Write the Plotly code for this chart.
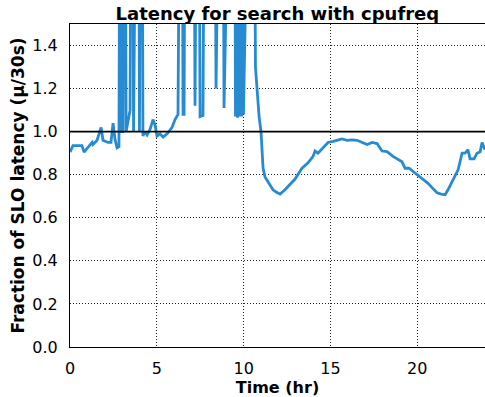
import plotly.graph_objects as go

# Time (hours) and latency fraction of SLO (values >1.5 run off the top of the chart)
time_hr = [
    0.00, 0.17, 0.46, 0.69, 0.81, 1.04, 1.27, 1.32, 1.56, 1.79, 1.90, 2.19, 2.36, 2.48, 2.59, 2.71, 2.82,
    2.91, 2.97, 3.05, 3.14, 3.23, 3.34, 3.46, 3.57, 3.66, 3.77, 3.92, 4.00, 4.12, 4.20,
    4.32, 4.44, 4.61, 4.78, 4.90, 5.01, 5.18, 5.36, 5.59, 5.88, 6.05, 6.22,
    6.34, 6.42, 6.51, 6.57, 6.68, 7.08, 7.20, 7.29, 7.37, 7.49, 7.66, 7.80, 8.29, 8.41, 8.50,
    8.76, 8.87, 8.96, 9.45, 9.53, 9.59, 9.65, 9.71, 9.76, 9.82, 9.88, 9.94, 9.99, 10.08, 10.54,
    10.68, 10.77, 10.89, 11.00, 11.12, 11.23, 11.40, 11.69, 11.87, 12.10, 12.38, 12.67, 12.96,
    13.36, 13.71, 14.00, 14.11, 14.28, 14.52, 14.86, 15.15, 15.44, 15.67, 15.96, 16.24, 16.53,
    16.88, 17.11, 17.40, 17.68, 17.97, 18.26, 18.60, 18.89, 19.12, 19.30, 19.53, 19.76, 19.99,
    20.33, 20.62, 20.85, 21.14, 21.37, 21.60, 21.77, 22.06, 22.35, 22.58, 22.75, 22.92, 23.04,
    23.27, 23.44, 23.62, 23.73, 23.90,
]
latency_frac = [
    0.905, 0.935, 0.935, 0.935, 0.905, 0.93, 0.95, 0.94, 0.96, 1.02, 0.96, 0.95, 0.95, 1.04, 0.965, 0.925, 0.93,
    3.5, 1.0, 1.0, 3.5, 1.0, 1.05, 1.10, 3.5, 1.0, 3.5, 3.5, 1.0, 3.5, 0.98,
    1.0, 0.985, 1.01, 1.056, 1.03, 0.98, 0.99, 0.975, 0.99, 1.02, 1.056, 1.08,
    3.5, 3.5, 1.08, 1.08, 3.5, 3.5, 1.12, 3.5, 3.5, 1.07, 1.075, 3.5, 3.5, 1.2, 3.5,
    3.5, 1.11, 3.5, 3.5, 1.07, 3.5, 1.065, 3.5, 1.07, 3.5, 1.07, 3.5, 1.08, 3.5, 3.5,
    1.3, 1.18, 1.07, 1.0, 0.83, 0.79, 0.77, 0.73, 0.72, 0.71, 0.73, 0.755, 0.78,
    0.83, 0.855, 0.885, 0.91, 0.90, 0.92, 0.95, 0.955, 0.96, 0.966, 0.96, 0.962, 0.96,
    0.95, 0.94, 0.95, 0.945, 0.91, 0.907, 0.885, 0.87, 0.86, 0.83, 0.83, 0.815, 0.80,
    0.777, 0.76, 0.74, 0.716, 0.71, 0.707, 0.73, 0.777, 0.823, 0.90, 0.90, 0.916, 0.874,
    0.874, 0.90, 0.907, 0.95, 0.916,
]
slo_line = 1.0
x_ticks = [0, 5, 10, 15, 20]
y_ticks = [0.0, 0.2, 0.4, 0.6, 0.8, 1.0, 1.2, 1.4]

FONT = "DejaVu Sans"

fig = go.Figure()
fig.add_trace(go.Scatter(
    x=time_hr, y=latency_frac, mode="lines",
    line=dict(color="#268bd2", width=2.8),
    showlegend=False,
))
fig.add_hline(y=slo_line, line=dict(color="black", width=1.6))

axis_common = dict(
    showgrid=True, gridcolor="#222222", gridwidth=1, griddash="1px,2px",
    showline=True, linecolor="black", linewidth=1, mirror=True,
    ticks="", zeroline=False,
    tickfont=dict(family=FONT, size=16, color="black"),
)
fig.update_xaxes(
    range=[0, 23.9], tickvals=x_ticks, ticklabelstandoff=7,
    title=dict(text="<b>Time (hr)</b>", font=dict(family=FONT, size=16, color="black"), standoff=0),
    **axis_common,
)
fig.update_yaxes(
    range=[0, 1.5], tickvals=y_ticks, tickformat=".1f", ticklabelstandoff=8,
    title=dict(text="<b>Fraction of SLO latency (μ/30s)</b>", font=dict(family=FONT, size=17, color="black"), standoff=3),
    **axis_common,
)
fig.update_layout(
    width=485, height=397,
    margin=dict(l=70, r=0, t=24, b=50),
    plot_bgcolor="white", paper_bgcolor="white",
    title=dict(text="<b>Latency for search with cpufreq</b>", x=0.572, xanchor="center",
               y=0.966, yanchor="middle", font=dict(family=FONT, size=18, color="black")),
)
fig.write_html("out.html")
